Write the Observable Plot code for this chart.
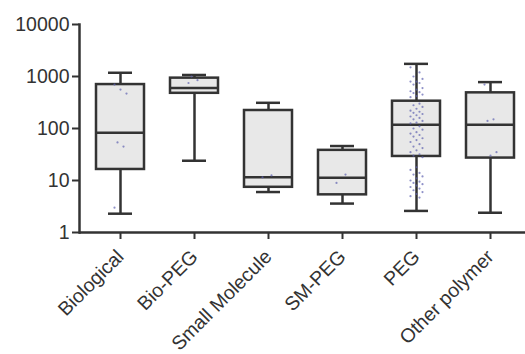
<!DOCTYPE html>
<html>
<head>
<meta charset="utf-8">
<script src="https://cdn.jsdelivr.net/npm/d3@7"></script>
<script src="https://cdn.jsdelivr.net/npm/@observablehq/plot@0.6"></script>
<style>
  html, body { margin: 0; padding: 0; background: #fff; }
  #chart { width: 525px; height: 354px; overflow: hidden; }
</style>
</head>
<body>
<div id="chart"></div>
<script>
const categories = ["Biological", "Bio-PEG", "Small Molecule", "SM-PEG", "PEG", "Other polymer"];
const whiskerLow  = [2.3, 24, 6.0, 3.6, 2.6, 2.4];
const quartile1   = [16.3, 475, 7.4, 5.3, 29, 27];
const medians     = [83, 600, 11.6, 11.3, 118, 118];
const quartile3   = [700, 930, 222, 38, 335, 485];
const whiskerHigh = [1180, 1070, 312, 46, 1750, 780];
const yTicks = [1, 10, 100, 1000, 10000];

// individual observations (estimated from the faint dots)
const biologicalPts = [3.0, 45, 54, 470, 560, 700];
const bioPegPts = [750, 850, 1000];
const smallMolPts = [11.5, 12.5];
const smPegPts = [9, 13];
const pegPts = [1500, 1200, 1000, 900, 800, 800, 750, 700, 600, 560, 520, 500, 480, 450, 420, 400,
  300, 280, 260, 240, 220, 210, 200, 190, 180, 170, 160, 150, 140, 130, 125, 110, 100, 95, 85, 80,
  75, 70, 65, 60, 55, 50, 45, 42, 38, 35, 32, 30, 28,
  18, 16, 14, 13, 12, 11, 10, 9.5, 9, 8.5, 8, 7.5, 7, 6.5, 6, 5.5, 5, 4.7];
const otherPts = [700, 150, 140, 35, 30];

const stats = categories.map((c, i) => ({
  cat: c, lo: whiskerLow[i], q1: quartile1[i], med: medians[i], q3: quartile3[i], hi: whiskerHigh[i]
}));
const ptsByCat = [biologicalPts, bioPegPts, smallMolPts, smPegPts, pegPts, otherPts];
const points = [];
ptsByCat.forEach((arr, i) => arr.forEach((v, j) => points.push({cat: categories[i], v, k: j})));

const ink = "#333333";
const sw = 2.5;
const jitterOffsets = [-6, -3, 0, 3, 6];
const dotMarks = jitterOffsets.map((off, g) =>
  Plot.dot(points.filter(d => (d.k * 3) % jitterOffsets.length === g),
    {x: "cat", y: "v", r: 1.1, fill: "#5f63b0", fillOpacity: 0.7, stroke: null, dx: off}));

const chart = Plot.plot({
  width: 525,
  height: 354,
  marginLeft: 79,
  marginRight: 0,
  marginTop: 24,
  marginBottom: 122,
  style: {fontFamily: "Arial, 'Liberation Sans', Helvetica, sans-serif", fontSize: "19.5px", color: ink, background: "#fff"},
  x: {domain: categories, range: [70, 541], padding: 0.35, label: null},
  y: {type: "log", domain: [1, 10000], label: null},
  marks: [
    Plot.ruleX(stats, {x: "cat", y1: "lo", y2: "q1", stroke: ink, strokeWidth: sw}),
    Plot.ruleX(stats, {x: "cat", y1: "q3", y2: "hi", stroke: ink, strokeWidth: sw}),
    Plot.barY(stats, {x: "cat", y1: "q1", y2: "q3", fill: "#e8e8e8", stroke: ink, strokeWidth: sw}),
    Plot.tickY(stats, {x: "cat", y: "med", stroke: ink, strokeWidth: sw}),
    Plot.tickY(stats, {x: "cat", y: "lo", stroke: ink, strokeWidth: sw, insetLeft: 12, insetRight: 12}),
    Plot.tickY(stats, {x: "cat", y: "hi", stroke: ink, strokeWidth: sw, insetLeft: 12, insetRight: 12}),
    ...dotMarks,
    Plot.axisY({ticks: yTicks, tickFormat: d => String(d), tickSize: 7, tickPadding: 3, stroke: ink, strokeWidth: 2, fill: ink}),
    Plot.axisX({tickRotate: -45, tickSize: 7, tickPadding: 14, stroke: ink, strokeWidth: 2, fill: ink}),
    Plot.ruleY([1], {stroke: ink, strokeWidth: 2.5}),
    Plot.frame({anchor: "left", stroke: ink, strokeWidth: 2.5})
  ]
});
document.getElementById("chart").appendChild(chart);
</script>
</body>
</html>
